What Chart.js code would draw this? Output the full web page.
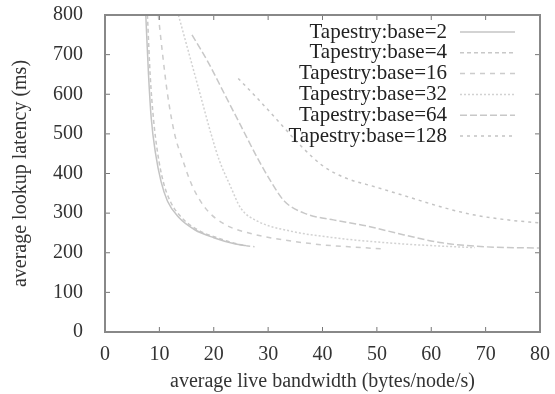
<!DOCTYPE html>
<html>
<head>
<meta charset="utf-8">
<script src="https://cdn.jsdelivr.net/npm/chart.js@4/dist/chart.umd.min.js"></script>
<style>
  html, body { margin: 0; padding: 0; background: #fff; }
  #wrap { width: 555px; height: 394px; }
</style>
</head>
<body>
<div id="wrap"><canvas id="chart"></canvas></div>
<script>
const labels = ['Tapestry:base=2', 'Tapestry:base=4', 'Tapestry:base=16', 'Tapestry:base=32', 'Tapestry:base=64', 'Tapestry:base=128'];

// bandwidth (x) and latency (y) for each series
const bw2 = [7.5, 8, 8.5, 9.3, 10.3, 11.5, 13.5, 16.5, 20, 24, 26];
const lat2 = [800, 650, 540, 450, 380, 330, 290, 258, 238, 222, 218];
const bw4 = [7.8, 8.3, 8.9, 9.7, 10.7, 12, 14, 17, 21, 25, 27.5];
const lat4 = [800, 650, 540, 450, 380, 330, 290, 258, 236, 220, 215];
const bw16 = [9.8, 10.6, 11.5, 12.8, 14.3, 16, 18.5, 22, 27, 33, 40, 46, 51];
const lat16 = [800, 700, 600, 500, 434, 370, 312, 272, 248, 232, 220, 214, 210];
const bw32 = [13.5, 15.5, 17.5, 19.5, 21, 23, 25, 28, 34, 42, 52, 60, 68];
const lat32 = [800, 700, 600, 500, 434, 370, 312, 280, 255, 238, 225, 218, 213];
const bw64 = [16, 19, 22, 25, 28, 30.5, 33, 37, 42, 48, 55, 62, 70, 80];
const lat64 = [750, 680, 600, 520, 440, 380, 330, 298, 283, 268, 245, 225, 215, 212];
const bw128 = [24.5, 28, 32, 36, 40, 44, 50, 56, 62, 68, 74, 80];
const lat128 = [640, 590, 530, 470, 420, 390, 365, 340, 315, 295, 283, 275];

const xTicks = [0, 10, 20, 30, 40, 50, 60, 70, 80];
const yTicks = [0, 100, 200, 300, 400, 500, 600, 700, 800];

const series = [[bw2, lat2], [bw4, lat4], [bw16, lat16], [bw32, lat32], [bw64, lat64], [bw128, lat128]];
const dashes = [[], [4, 3], [5, 5], [2, 2], [7, 3], [3, 4]];
const lineColors = ['#c4c4c4', '#c8c8c8', '#cccccc', '#d2d2d2', '#c8c8c8', '#c4c4c4'];

function zip(xs, ys) {
  return xs.map((x, i) => ({ x: x, y: ys[i] }));
}

const serif = 'Liberation Serif, Times New Roman, serif';

// gnuplot-like frame with inward ticks on all four sides
const framePlugin = {
  id: 'frame',
  afterDraw(chart) {
    const { ctx, chartArea: a, scales } = chart;
    ctx.save();
    ctx.strokeStyle = '#777';
    ctx.lineWidth = 1;
    xTicks.forEach(v => {
      const px = scales.x.getPixelForValue(v);
      ctx.beginPath();
      ctx.moveTo(px, a.bottom); ctx.lineTo(px, a.bottom - 5);
      ctx.moveTo(px, a.top); ctx.lineTo(px, a.top + 5);
      ctx.stroke();
    });
    yTicks.forEach(v => {
      const py = scales.y.getPixelForValue(v);
      ctx.beginPath();
      ctx.moveTo(a.left, py); ctx.lineTo(a.left + 5, py);
      ctx.moveTo(a.right, py); ctx.lineTo(a.right - 5, py);
      ctx.stroke();
    });
    ctx.strokeStyle = '#888';
    ctx.lineWidth = 2;
    ctx.strokeRect(a.left, a.top, a.right - a.left, a.bottom - a.top);
    ctx.restore();
  }
};

// legend: right aligned text with line sample on its right
const keyPlugin = {
  id: 'key',
  afterDatasetsDraw(chart) {
    const ctx = chart.ctx;
    ctx.save();
    ctx.font = '21px ' + serif;
    ctx.textAlign = 'right';
    ctx.textBaseline = 'middle';
    chart.data.datasets.forEach((ds, i) => {
      const y = 32 + i * 20.8;
      ctx.fillStyle = '#222';
      ctx.fillText(ds.label, 447, y);
      ctx.strokeStyle = ds.borderColor;
      ctx.lineWidth = 1.5;
      ctx.setLineDash(ds.borderDash);
      ctx.beginPath();
      ctx.moveTo(460, y);
      ctx.lineTo(515, y);
      ctx.stroke();
    });
    ctx.restore();
  }
};

new Chart(document.getElementById('chart'), {
  type: 'scatter',
  data: {
    datasets: series.map((s, i) => ({
      label: labels[i],
      data: zip(s[0], s[1]),
      showLine: true,
      borderColor: lineColors[i],
      borderWidth: 1.5,
      borderDash: dashes[i],
      pointRadius: 0,
      cubicInterpolationMode: 'monotone',
      fill: false
    }))
  },
  options: {
    responsive: true,
    maintainAspectRatio: false,
    animation: false,
    layout: { padding: { top: 15, right: 15, left: 0, bottom: 0 } },
    plugins: {
      legend: { display: false },
      tooltip: { enabled: false }
    },
    scales: {
      x: {
        type: 'linear',
        min: 0,
        max: 80,
        afterFit(scale) {
          scale.height = 62;
          scale.paddingLeft = 0;
          scale.paddingRight = 0;
        },
        afterBuildTicks(scale) { scale.ticks = xTicks.map(v => ({ value: v })); },
        grid: { display: false },
        border: { display: false },
        ticks: { color: '#333', padding: 3, font: { family: serif, size: 20 } },
        title: {
          display: true,
          text: 'average live bandwidth (bytes/node/s)',
          color: '#333',
          padding: { top: 0, bottom: 0 },
          font: { family: serif, size: 20 }
        }
      },
      y: {
        type: 'linear',
        min: 0,
        max: 800,
        afterFit(scale) {
          scale.width = 105;
          scale.paddingTop = 0;
          scale.paddingBottom = 0;
        },
        afterBuildTicks(scale) { scale.ticks = yTicks.map(v => ({ value: v })); },
        grid: { display: false },
        border: { display: false },
        ticks: { color: '#333', padding: 14, font: { family: serif, size: 20 } },
        title: {
          display: true,
          text: 'average lookup latency (ms)',
          color: '#333',
          padding: { top: 9, bottom: 0 },
          font: { family: serif, size: 20 }
        }
      }
    }
  },
  plugins: [framePlugin, keyPlugin]
});
</script>
</body>
</html>
